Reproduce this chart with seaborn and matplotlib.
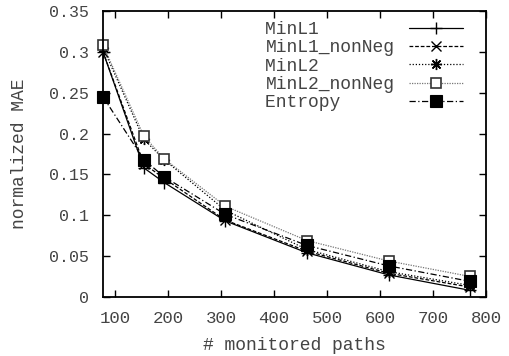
import matplotlib
matplotlib.use("Agg")
import matplotlib.pyplot as plt
import seaborn as sns
import pandas as pd
from matplotlib.ticker import FuncFormatter

paths = [77, 154, 192.5, 308, 462, 616, 770]
minl1 = [0.300, 0.158, 0.140, 0.093, 0.054, 0.027, 0.008]
minl1_nonneg = [0.300, 0.163, 0.145, 0.094, 0.056, 0.029, 0.012]
minl2 = [0.305, 0.193, 0.168, 0.106, 0.058, 0.031, 0.014]
minl2_nonneg = [0.308, 0.197, 0.169, 0.111, 0.069, 0.044, 0.025]
entropy = [0.245, 0.168, 0.147, 0.101, 0.063, 0.038, 0.019]
series_names = ["MinL1", "MinL1_nonNeg", "MinL2", "MinL2_nonNeg", "Entropy"]
xticks = [100, 200, 300, 400, 500, 600, 700, 800]
yticks = [0, 0.05, 0.1, 0.15, 0.2, 0.25, 0.3, 0.35]

sns.set_theme(style="ticks")
plt.rcParams["font.family"] = ["Liberation Mono", "DejaVu Sans"]

fig = plt.figure(figsize=(5.10, 3.56), dpi=100)
ax = fig.add_axes([0.202, 0.166, 0.751, 0.803])

styles = {
    "MinL1": dict(color="black", linestyle="-", marker="+", markersize=9, mew=1.0, mfc="black", mec="black"),
    "MinL1_nonNeg": dict(color="black", linestyle=(0, (3, 1.5)), marker="x", markersize=7, mew=1.0, mfc="black", mec="black"),
    "MinL2": dict(color="black", linestyle=(0, (1, 1.5)), marker=(8, 2, 0), markersize=8, mew=1.0, mfc="black", mec="black"),
    "MinL2_nonNeg": dict(color="#777777", linestyle=(0, (1, 1)), marker="s", markersize=7, mew=1.2, mfc="white", mec="#333333"),
    "Entropy": dict(color="black", linestyle=(0, (5, 2, 1, 2)), marker="s", markersize=8.5, mew=0.8, mfc="black", mec="black"),
}
values = [minl1, minl1_nonneg, minl2, minl2_nonneg, entropy]

for name, vals in zip(series_names, values):
    df = pd.DataFrame({"x": paths, "y": vals})
    st = styles[name]
    sns.lineplot(data=df, x="x", y="y", ax=ax, label=name.ljust(12),
                 linewidth=0.9, clip_on=False, **st)

ax.set_xlim(77, 800)
ax.set_ylim(0, 0.35)
ax.set_xticks(xticks)
ax.set_yticks(yticks)
ax.yaxis.set_major_formatter(FuncFormatter(lambda v, p: ("%g" % v)))
ax.tick_params(direction="in", top=True, right=True, length=5, width=1,
               labelcolor="#444444", color="black")
ax.tick_params(axis="x", labelsize=12.5, pad=10)
ax.tick_params(axis="y", labelsize=12, pad=10)
for s in ax.spines.values():
    s.set_linewidth(1.3)
    s.set_color("black")
ax.set_xlabel("# monitored paths", fontsize=13, color="#444444", labelpad=8)
ax.set_ylabel("normalized MAE", fontsize=13, color="#444444", labelpad=15)

leg = ax.legend(loc="upper right", frameon=False, fontsize=13, markerfirst=False,
                handlelength=3.0, handletextpad=0.8, labelspacing=0.07,
                borderaxespad=0, borderpad=0,
                bbox_to_anchor=(1 - 23 / 383, 1 - 10 / 286))
for t in leg.get_texts():
    t.set_color("#444444")

fig.savefig("out.png", dpi=100)
